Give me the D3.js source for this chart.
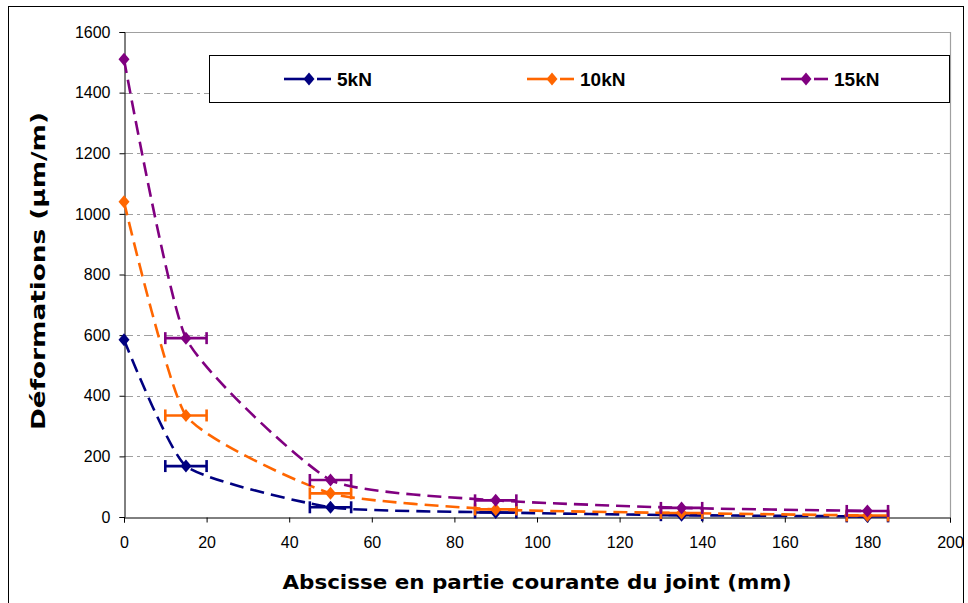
<!DOCTYPE html>
<html>
<head>
<meta charset="utf-8">
<script src="https://cdn.jsdelivr.net/npm/d3@7"></script>
<style>
  body { margin: 0; background: #fff; }
  svg { font-family: "Liberation Sans", Arial, sans-serif; }
</style>
</head>
<body>
<svg id="viz" width="968" height="603"></svg>
<script>
// abscissa positions (mm)
var xs = [0, 15, 50, 90, 135, 180]
// deformations per load (µm/m)
var def5 = [585, 168, 32, 15, 6, 2]
var def10 = [1040, 335, 78, 25, 13, 5]
var def15 = [1510, 590, 122, 55, 30, 20]
// horizontal error half-width (mm), none at x=0
var errX = [0, 5, 5, 5, 5, 5]

var seriesNames = ['5kN', '10kN', '15kN']
var seriesColors = ['#000080', '#ff6600', '#800080']
var yTicks = [0, 200, 400, 600, 800, 1000, 1200, 1400, 1600]
var xTicks = [0, 20, 40, 60, 80, 100, 120, 140, 160, 180, 200]

var series = [def5, def10, def15].map((vals, i) => ({
  name: seriesNames[i],
  color: seriesColors[i],
  points: xs.map((x, j) => ({x: x, y: vals[j], e: errX[j]}))
}))

var svg = d3.select('svg#viz')
var plotLeft = 124, plotRight = 950, plotTop = 32, plotBottom = 517

var x = d3.scaleLinear().domain([0, 200]).range([plotLeft, plotRight])
var y = d3.scaleLinear().domain([0, 1600]).range([plotBottom, plotTop])

// outer chart border
svg.append('rect')
    .attr('x', 8.5).attr('y', 6.5)
    .attr('width', 955).attr('height', 600)
    .attr('fill', 'none').attr('stroke', '#000').attr('stroke-width', 1)

// grid lines
svg.append('g')
  .selectAll('line')
  .data(yTicks.filter(t => t > 0 && t < 1600))
  .join('line')
    .attr('x1', plotLeft).attr('x2', plotRight)
    .attr('y1', d => Math.round(y(d)) + 0.5).attr('y2', d => Math.round(y(d)) + 0.5)
    .attr('stroke', '#a0a0a0').attr('stroke-width', 1.2)
    .attr('stroke-dasharray', '9,4,3,4')

// plot area top and right borders
svg.append('path')
    .attr('d', `M${plotLeft},${y(1600) + 0.5}H${plotRight + 0.5}V${plotBottom}`)
    .attr('fill', 'none').attr('stroke', '#a0a0a0').attr('stroke-width', 1.2)

// axes
var yAxis = svg.append('g')
    .attr('transform', `translate(${plotLeft + 0.5},0)`)
    .call(d3.axisLeft(y).tickValues(yTicks).tickSize(5).tickPadding(9).tickFormat(d3.format('d')))
var xAxis = svg.append('g')
    .attr('transform', `translate(0,${plotBottom + 0.5})`)
    .call(d3.axisBottom(x).tickValues(xTicks).tickSize(5).tickPadding(14).tickFormat(d3.format('d')))

;[yAxis, xAxis].forEach(a => {
  a.select('.domain').attr('stroke', '#000').attr('stroke-width', 1)
  a.selectAll('.tick line').attr('stroke', '#000')
  a.selectAll('.tick text')
    .attr('font-family', '"Liberation Sans", Arial, sans-serif')
    .attr('font-size', 16).attr('fill', '#000')
})

// axis titles
svg.append('text')
    .attr('transform', 'translate(45,271) rotate(-90)')
    .attr('text-anchor', 'middle')
    .attr('font-family', '"DejaVu Sans", Verdana, sans-serif')
    .attr('font-size', 19).attr('font-weight', 'bold')
    .attr('textLength', 318).attr('lengthAdjust', 'spacingAndGlyphs')
    .text('Déformations (µm/m)')

svg.append('text')
    .attr('x', 537).attr('y', 589)
    .attr('text-anchor', 'middle')
    .attr('font-family', '"DejaVu Sans", Verdana, sans-serif')
    .attr('font-size', 20).attr('font-weight', 'bold')
    .attr('textLength', 509).attr('lengthAdjust', 'spacingAndGlyphs')
    .text('Abscisse en partie courante du joint (mm)')

var line = d3.line()
    .x(d => x(d.x))
    .y(d => y(d.y))
    .curve(d3.curveCardinal.tension(0.5))

var diamond = 'M0,-6.5L5.5,0L0,6.5L-5.5,0Z'

var g = svg.append('g').selectAll('g')
  .data(series)
  .join('g')

g.append('path')
    .attr('d', d => line(d.points))
    .attr('fill', 'none')
    .attr('stroke', d => d.color)
    .attr('stroke-width', 2.6)
    .attr('stroke-dasharray', '14,7')

// error bars
g.each(function(s) {
  var eb = d3.select(this).append('g')
    .selectAll('g')
    .data(s.points.filter(p => p.e > 0))
    .join('g')
  eb.append('line')
      .attr('x1', p => x(p.x - p.e)).attr('x2', p => x(p.x + p.e))
      .attr('y1', p => y(p.y)).attr('y2', p => y(p.y))
      .attr('stroke', s.color).attr('stroke-width', 2.6)
  eb.selectAll('line.cap')
    .data(p => [{x: p.x - p.e, y: p.y}, {x: p.x + p.e, y: p.y}])
    .join('line')
      .attr('class', 'cap')
      .attr('x1', c => x(c.x)).attr('x2', c => x(c.x))
      .attr('y1', c => y(c.y) - 6).attr('y2', c => y(c.y) + 6)
      .attr('stroke', s.color).attr('stroke-width', 2.6)
})

g.selectAll('path.mark')
  .data(d => d.points.map(p => ({p: p, color: d.color})))
  .join('path')
    .attr('class', 'mark')
    .attr('d', diamond)
    .attr('transform', d => `translate(${x(d.p.x)},${y(d.p.y)})`)
    .attr('fill', d => d.color)

// legend
var legend = svg.append('g')
legend.append('rect')
    .attr('x', 209.5).attr('y', 55.5)
    .attr('width', 740).attr('height', 47)
    .attr('fill', '#fff').attr('stroke', '#000').attr('stroke-width', 1)

var legX = [284, 527, 781]
var li = legend.selectAll('g.item')
  .data(series)
  .join('g')
    .attr('class', 'item')
    .attr('transform', (d, i) => `translate(${legX[i]},79)`)

li.append('line')
    .attr('x1', 0).attr('x2', 22).attr('y1', 0).attr('y2', 0)
    .attr('stroke', d => d.color).attr('stroke-width', 2.6)
li.append('line')
    .attr('x1', 33).attr('x2', 47).attr('y1', 0).attr('y2', 0)
    .attr('stroke', d => d.color).attr('stroke-width', 2.6)
li.append('path')
    .attr('d', diamond)
    .attr('transform', 'translate(25,0)')
    .attr('fill', d => d.color)
li.append('text')
    .attr('x', 53).attr('y', 7)
    .attr('font-size', 19).attr('font-weight', 'bold')
    .text(d => d.name)
</script>
</body>
</html>
